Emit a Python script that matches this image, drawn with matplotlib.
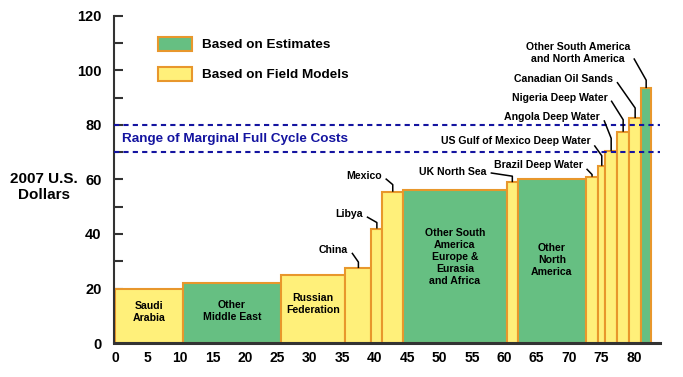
import numpy as np
import matplotlib
matplotlib.use("Agg")
import matplotlib.pyplot as plt
from matplotlib.patches import Patch

plt.rcParams['font.family'] = ['Liberation Sans', 'DejaVu Sans']
plt.rcParams['font.weight'] = 'bold'

# supply segments: name, width (x units), cost, source type
names = ["Saudi Arabia", "Other Middle East", "Russian Federation", "China", "Libya",
         "Mexico", "Other South America Europe & Eurasia and Africa", "UK North Sea",
         "Other North America", "Brazil Deep Water", "US Gulf of Mexico Deep Water",
         "Angola Deep Water", "Nigeria Deep Water", "Canadian Oil Sands",
         "Other South America and North America"]
widths = [10.5, 15.0, 10.0, 4.0, 1.7, 3.2, 16.0, 1.7, 10.5, 1.9, 1.1, 1.8, 1.9, 1.8, 1.6]
costs = [20, 22, 25, 27.5, 42, 55.5, 56, 59, 60, 61, 65, 70.5, 77.5, 82.5, 93.5]
kinds = ["F", "E", "F", "F", "F", "F", "E", "F", "E", "F", "F", "F", "F", "F", "E"]

# labels drawn inside the wide bars: index -> (text, y)
inner_labels = {0: ("Saudi\nArabia", 11.4), 1: ("Other\nMiddle East", 11.7),
                2: ("Russian\nFederation", 14.3),
                6: ("Other South\nAmerica\nEurope &\nEurasia\nand Africa", 31.4),
                8: ("Other\nNorth\nAmerica", 30.5)}
# callouts for the narrow bars: index -> (text, text right x, text y, bend above bar, line start drop)
callouts = {3: ("China", 35.9, 34.1, 2.2, 1.0),
            4: ("Libya", 38.2, 47.3, 2.2, 1.0),
            5: ("Mexico", 41.1, 61.3, 2.6, 1.0),
            7: ("UK North Sea", 57.3, 62.8, 2.2, 0.4),
            9: ("Brazil Deep Water", 72.1, 65.3, 0.8, 1.4),
            10: ("US Gulf of Mexico Deep Water", 73.3, 74.0, 3.7, 1.5),
            11: ("Angola Deep Water", 74.8, 82.9, 4.6, 1.2),
            12: ("Nigeria Deep Water", 75.9, 89.9, 4.4, 1.0),
            13: ("Canadian Oil Sands", 76.8, 96.9, 3.7, 1.2),
            14: ("Other South America\nand North America", 79.4, 106.4, 2.9, 2.0)}

green = "#66bf82"
yellow = "#fff07a"
orange = "#e8972c"
blue = "#1414a0"

fig = plt.figure(figsize=(6.83, 3.77), dpi=100)
ax = fig.add_axes([0.167, 0.090, 0.799, 0.868])

lefts = np.concatenate([[0], np.cumsum(widths)[:-1]])
colors = [green if k == "E" else yellow for k in kinds]
ax.bar(lefts, costs, width=widths, align='edge', color=colors,
       edgecolor=orange, linewidth=1.5, zorder=2)

# marginal cost range
for lvl in (70, 80):
    ax.axhline(lvl, color=blue, linestyle=(0, (2.5, 2)), linewidth=1.5, zorder=3)
ax.text(1.0, 75, "Range of Marginal Full Cycle Costs", color=blue,
        fontsize=9.7, fontweight='bold', va='center', ha='left')

for i, (txt, y) in inner_labels.items():
    ax.text(lefts[i] + widths[i] / 2, y, txt, ha='center', va='center',
            fontsize=7.6, fontweight='bold', linespacing=1.25, zorder=4)

for i, (txt, tx, ty, bend, drop) in callouts.items():
    xc = lefts[i] + widths[i] / 2
    ax.text(tx, ty, txt, ha='right', va='center', fontsize=7.6, fontweight='bold',
            multialignment='center', linespacing=1.25)
    ax.plot([tx + 0.6, xc, xc], [ty - drop, costs[i] + bend, costs[i]],
            color='black', linewidth=1.1, zorder=4, solid_capstyle='butt')

# legend
handles = [Patch(facecolor=green, edgecolor=orange, linewidth=1.5, label="Based on Estimates"),
           Patch(facecolor=yellow, edgecolor=orange, linewidth=1.5, label="Based on Field Models")]
leg = ax.legend(handles=handles, loc='upper left', bbox_to_anchor=(158 / 683, 1 - 37 / 377),
                bbox_transform=fig.transFigure, borderpad=0, borderaxespad=0,
                frameon=False, fontsize=9.7, handlelength=2.5, handleheight=1.2,
                handletextpad=0.75, labelspacing=1.15)
for t in leg.get_texts():
    t.set_fontweight('bold')

ax.set_xlim(-0.2, 84)
ax.set_ylim(0, 120)
ax.set_xticks(np.arange(0, 81, 5))
ax.set_yticks(np.arange(0, 121, 20))
ax.set_yticks(np.arange(10, 120, 20), minor=True)
ax.tick_params(axis='x', length=0, pad=6, labelsize=10)
ax.tick_params(axis='y', which='both', direction='in', length=6.5, width=1.5,
               color='#333333', pad=9, labelsize=10.5)
for lab in ax.get_xticklabels() + ax.get_yticklabels():
    lab.set_fontweight('bold')

ax.spines['top'].set_visible(False)
ax.spines['right'].set_visible(False)
ax.spines['left'].set_color('#333333')
ax.spines['left'].set_linewidth(1.5)
ax.spines['bottom'].set_color('#333333')
ax.spines['bottom'].set_linewidth(2.2)
ax.spines['bottom'].set_zorder(5)

ax.set_ylabel("2007 U.S.\nDollars", rotation=0, fontsize=11, fontweight='bold',
              ha='center', va='center')
ax.yaxis.set_label_coords(-0.128, 0.476)

fig.savefig("out.png", dpi=100)
